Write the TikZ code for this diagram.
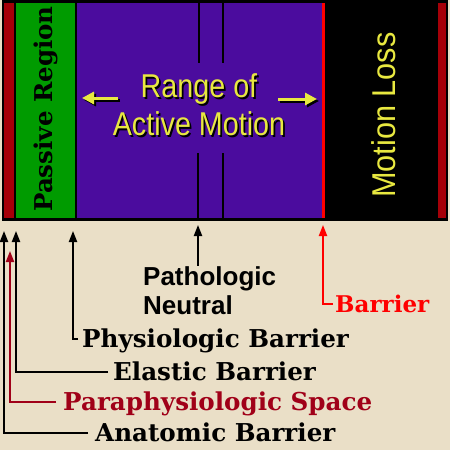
\documentclass[tikz,border=0pt]{standalone}
\usepackage{fontspec}
\usepackage{graphicx}
\usetikzlibrary{arrows.meta}
\newfontfamily\labfont{DejaVu Serif}
\newfontfamily\ysans{Liberation Sans}
\definecolor{beige}{RGB}{234,223,199}
\definecolor{bandgreen}{RGB}{0,155,0}
\definecolor{bandpurple}{RGB}{75,12,158}
\definecolor{stripred}{RGB}{165,0,8}
\definecolor{parared}{RGB}{160,0,24}
\definecolor{yel}{RGB}{232,232,64}
\newcommand\shadowtxt[1]{\makebox[0pt][l]{\kern2pt\raisebox{-2pt}{\textcolor{black}{#1}}}\textcolor{yel}{#1}}
\tikzset{
  lab/.style={font=\labfont\bfseries\fontsize{24.6}{27}\selectfont, inner sep=0pt, anchor=base west, text height=17pt, text depth=0pt},
  sansl/.style={font=\ysans\bfseries\fontsize{26}{29}\selectfont, inner sep=0pt, anchor=base west},
  arr/.style={line width=2pt, -{Triangle[length=11pt,width=8pt]}},
  yarr/.style={line width=3pt, -{Triangle[length=12pt,width=12pt]}},
  ytext/.style={font=\ysans\fontsize{33}{36}\selectfont, inner sep=0pt, anchor=base}
}
\begin{document}
\begin{tikzpicture}[x=1pt,y=-1pt]
\useasboundingbox (0,0) rectangle (450,450);
\fill[beige] (0,0) rectangle (450,450);
% band
\fill[black] (2,0) rectangle (448,221);
\fill[stripred] (4,3) rectangle (14,218);
\fill[bandgreen] (16,3) rectangle (75,218);
\fill[bandpurple] (77,3) rectangle (322,218);
\fill[red] (322,3) rectangle (325,218);
\fill[stripred] (438,3) rectangle (446,218);
% neutral lines
\draw[line width=2.5pt] (199,3) -- (199,63);
\draw[line width=2.5pt] (223,3) -- (223,63);
\draw[line width=2.5pt] (198,153) -- (198,218);
\draw[line width=2.5pt] (223,153) -- (223,218);
% passive region
\node[font=\labfont\bfseries\fontsize{24.5}{26}\selectfont, inner sep=0pt, rotate=90, anchor=base] (passive) at (52,109) {Passive Region};
% range of active motion
\node[ytext] (range) at (199,97) {\scalebox{0.87}[1]{\shadowtxt{Range of}}};
\node[ytext] (active) at (199,135) {\scalebox{0.87}[1]{\shadowtxt{Active Motion}}};
\coordinate (laTail) at (118,98);
\coordinate (laTip) at (82,98);
\coordinate (raTail) at (278,99);
\coordinate (raTip) at (317,99);
\draw[yarr, black] ([shift={(2,2)}]laTail) -- ([shift={(2,2)}]laTip);
\draw[yarr, black] ([shift={(2,2)}]raTail) -- ([shift={(2,2)}]raTip);
\draw[yarr, yel] (laTail) -- (laTip);
\draw[yarr, yel] (raTail) -- (raTip);
% motion loss
\node[ytext, text=yel, rotate=90] (loss) at (395,115) {\scalebox{0.93}[1]{Motion Loss}};
% labels
\node[sansl] (path) at (143,285) {Pathologic};
\node[sansl] (neut) at (143,314) {Neutral};
\node[lab, text=red, font=\labfont\bfseries\fontsize{23}{26}\selectfont] (barr) at (335,312) {Barrier};
\node[lab] (phys) at (82,347) {Physiologic Barrier};
\node[lab] (elas) at (113,380) {Elastic Barrier};
\node[lab, text=parared] (para) at (63,410) {Paraphysiologic Space};
\node[lab] (anat) at (95,441) {Anatomic Barrier};
% tips
\coordinate (anatTip) at (4,231);
\coordinate (elasTip) at (16,231);
\coordinate (paraTip) at (10,251);
\coordinate (physTip) at (73,231);
\coordinate (pathTip) at (198,225);
\coordinate (barrTip) at (323,225);
\draw[arr] (pathTip |- path.north) -- (pathTip);
\draw[arr, red] ([xshift=-2pt]barr.west) -| (barrTip);
\draw[arr] ([xshift=-4pt]phys.west) -| (physTip);
\draw[arr] ([xshift=-5pt]elas.west) -| (elasTip);
\draw[arr, parared] ([xshift=-7pt]para.west) -| (paraTip);
\draw[arr] ([xshift=-7pt]anat.west) -| (anatTip);
\end{tikzpicture}
\end{document}
